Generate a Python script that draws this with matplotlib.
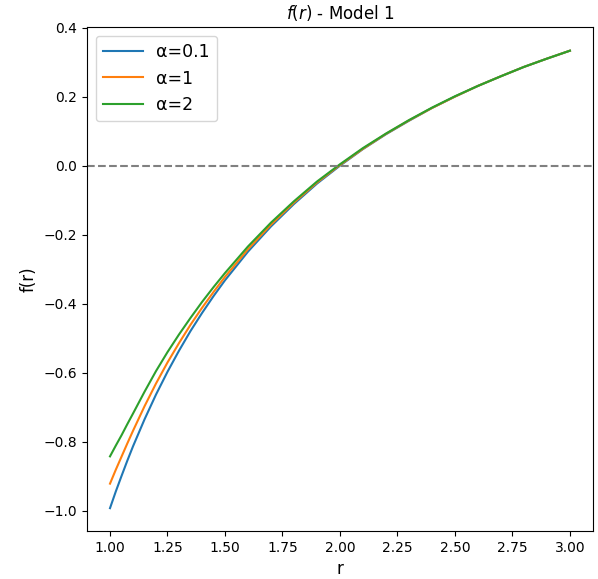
import matplotlib
matplotlib.use("Agg")
import matplotlib.pyplot as plt

r = [1.0, 1.025, 1.05, 1.075, 1.1, 1.15, 1.2, 1.25, 1.3, 1.35, 1.4, 1.45, 1.5, 1.6,
     1.7, 1.8, 1.9, 2.0, 2.1, 2.2, 2.3, 2.4, 2.5, 2.6, 2.7, 2.8, 2.9, 3.0]

f_a01 = [-0.992, -0.944, -0.899, -0.855, -0.813, -0.735, -0.663, -0.597, -0.536,
         -0.479, -0.427, -0.378, -0.332, -0.249, -0.176, -0.111, -0.052, 0.000,
         0.048, 0.091, 0.130, 0.167, 0.200, 0.231, 0.259, 0.286, 0.310, 0.333]
f_a1 = [-0.921, -0.881, -0.843, -0.805, -0.768, -0.697, -0.631, -0.570, -0.514,
        -0.461, -0.412, -0.366, -0.322, -0.242, -0.171, -0.107, -0.049, 0.002,
        0.049, 0.092, 0.131, 0.167, 0.200, 0.231, 0.259, 0.286, 0.310, 0.333]
f_a2 = [-0.842, -0.811, -0.781, -0.749, -0.718, -0.655, -0.595, -0.540, -0.489,
        -0.441, -0.395, -0.352, -0.311, -0.234, -0.165, -0.103, -0.046, 0.004,
        0.051, 0.093, 0.132, 0.168, 0.201, 0.231, 0.259, 0.286, 0.310, 0.333]

labels = ["α=0.1", "α=1", "α=2"]
series = [f_a01, f_a1, f_a2]

fig = plt.figure(figsize=(5.98, 5.79), dpi=100)
ax = fig.add_axes([0.1455, 0.083, 0.846, 0.870])
for y, lab in zip(series, labels):
    ax.plot(r, y, label=lab, linewidth=1.5)
ax.axhline(0, color="gray", linestyle="--")
ax.set_ylim(-1.058, 0.401)
ax.set_title("$f(r)$ - Model 1", fontsize=12)
ax.set_xlabel("r", fontsize=12)
ax.set_ylabel("f(r)", fontsize=12)
ax.legend(loc="upper left", fontsize=12.5, handlelength=2.3)
fig.savefig("out.png", dpi=100)
